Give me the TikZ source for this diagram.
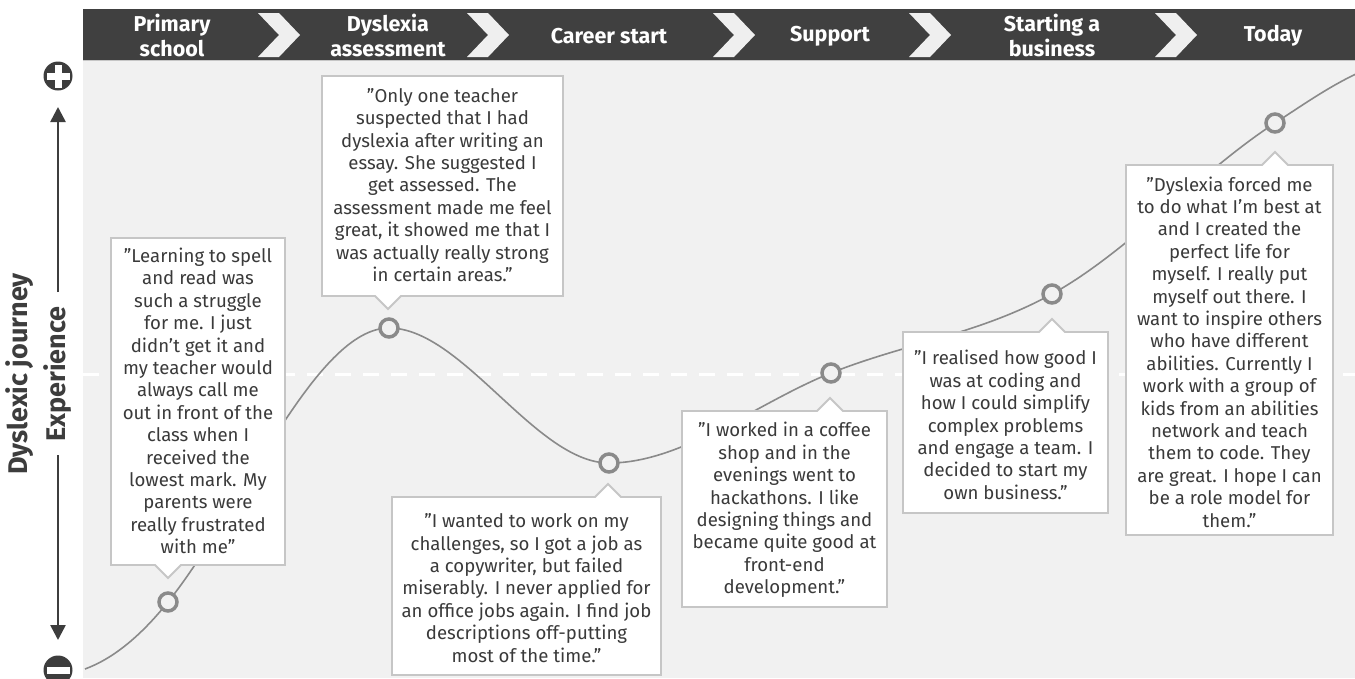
\documentclass[tikz,border=0pt]{standalone}
\usepackage{fontspec}
\setmainfont{Fira Sans}
\usetikzlibrary{arrows.meta}
\definecolor{bgc}{HTML}{F1F1F1}
\definecolor{hdr}{HTML}{404040}
\definecolor{chev}{HTML}{EFEFEF}
\definecolor{txt}{HTML}{3A3A3A}
\definecolor{boxline}{HTML}{C6C6C6}
\definecolor{curvec}{HTML}{8A8A8A}
\definecolor{axc}{HTML}{3D3D3D}
\newcommand\calloutup[5]{%
  \draw[callbox] (#1,#2) -- (#5-13,#2) -- (#5,#2-13) -- (#5+13,#2) -- (#3,#2) -- (#3,#4) -- (#1,#4) -- cycle;}
\newcommand\calloutdown[5]{%
  \draw[callbox] (#1,#2) -- (#3,#2) -- (#3,#4) -- (#5+13,#4) -- (#5,#4+13) -- (#5-13,#4) -- (#1,#4) -- cycle;}
\begin{document}
\begin{tikzpicture}[x=1pt,y=-1pt,
  callbox/.style={fill=white,draw=boxline,line width=1.8pt,line join=miter},
  quote/.style={text=txt,align=center,inner sep=0pt,font=\fontsize{18.6}{22.4}\selectfont},
  hlabel/.style={text=white,align=center,inner sep=0pt,font=\fontsize{21.5}{25}\selectfont\bfseries},
  axtitle/.style={text=axc,inner sep=0pt,font=\fontsize{27}{30}\selectfont\bfseries},
  stage/.style={circle,fill=bgc,draw=curvec,line width=3.5pt,minimum size=18pt,inner sep=0pt},
  axarrow/.style={axc,line width=2.6pt,-{Triangle[width=15pt,length=15pt]}},
  journey/.style={curvec,line width=1.6pt}]
\useasboundingbox (0,0) rectangle (1355,678);
\fill[white] (0,0) rectangle (1355,678);
\fill[bgc] (83,60) rectangle (1355,678);
% header
\fill[hdr] (83,9) rectangle (1355,60);
\draw[boxline,line width=1pt] (83,60.5) -- (1355,60.5);
\foreach \cx in {258,467,713,909,1155}
  \fill[chev] (\cx,13) -- ++(21,0) -- ++(21,22) -- ++(-21,22) -- ++(-21,0) -- ++(21,-22) -- cycle;
\node[hlabel] (h1) at (172,35) {Primary\\school};
\node[hlabel] (h2) at (388,35) {Dyslexia\\assessment};
\node[hlabel] (h3) at (609,36) {Career start};
\node[hlabel] (h4) at (830,36) {Support};
\node[hlabel] (h5) at (1052,35) {Starting a\\business};
\node[hlabel] (h6) at (1273,36) {Today};
% midline
\draw[white,line width=3pt,dash pattern=on 16pt off 12pt] (83,374) -- (1355,374);
% axis
\node[axtitle,rotate=90] (dj) at (20,374) {Dyslexic journey};
\node[axtitle,rotate=90] (exp) at (58,374) {Experience};
\node[circle,fill=axc,minimum size=29pt,inner sep=0pt] (plus) at (58,76) {};
\fill[white] (46.5,72.5) rectangle (69.5,79.5);
\fill[white] (54.5,64.5) rectangle (61.5,87.5);
\node[circle,fill=axc,minimum size=29pt,inner sep=0pt] (minus) at (58,670) {};
\fill[white] (46.5,666.5) rectangle (69.5,673.5);
\coordinate (axtop) at (58,292);
\coordinate (uptip) at (58,107);
\coordinate (axbot) at (58,455);
\coordinate (downtip) at (58,640);
\draw[axarrow] (axtop) -- (uptip);
\draw[axarrow] (axbot) -- (downtip);
% journey curve
\coordinate (p0) at (85,669);
\coordinate (p1) at (168,602);
\coordinate (p2) at (389,328);
\coordinate (p3) at (609,463);
\coordinate (p4) at (831,373);
\coordinate (p5) at (1052,294);
\coordinate (p6) at (1275,123);
\coordinate (p7) at (1356,74);
\draw[journey] (p0) .. controls (112.7,658.8) and (140.3,636.6) .. (p1)
  .. controls (241.7,509.9) and (315.3,328) .. (p2)
  .. controls (462.3,328) and (535.7,463) .. (p3)
  .. controls (683,463) and (757,402.6) .. (p4)
  .. controls (904.7,343.5) and (978.3,334.5) .. (p5)
  .. controls (1126.3,253.1) and (1200.7,171.3) .. (p6)
  .. controls (1301.7,105.7) and (1328.3,87) .. (p7);
\foreach \i in {1,...,6} \node[stage] (c\i) at (p\i) {};
% callouts
\calloutdown{111}{238}{285}{565}{168}
\calloutdown{322}{76}{563}{296}{388}
\calloutup{392}{497}{661}{675}{608}
\calloutup{682}{411}{887}{607}{830}
\calloutup{903}{332}{1108}{513}{1052}
\calloutup{1126}{165}{1333}{535}{1275}
\node[quote] (q1) at (198,401) {"Learning to spell\\and read was\\such a struggle\\for me. I just\\didn’t get it and\\my teacher would\\always call me\\out in front of the\\class when I\\received the\\lowest mark. My\\parents were\\really frustrated\\with me"};
\node[quote] (q2) at (442.5,185) {"Only one teacher\\suspected that I had\\dyslexia after writing an\\essay. She suggested I\\get assessed. The\\assessment made me feel\\great, it showed me that I\\was actually really strong\\in certain areas."};
\node[quote] (q3) at (526.5,588) {"I wanted to work on my\\challenges, so I got a job as\\a copywriter, but failed\\miserably. I never applied for\\an office jobs again. I find job\\descriptions off-putting\\most of the time."};
\node[quote] (q4) at (784.5,510) {"I worked in a coffee\\shop and in the\\evenings went to\\hackathons. I like\\designing things and\\became quite good at\\front-end\\development."};
\node[quote] (q5) at (1005.5,425) {"I realised how good I\\was at coding and\\how I could simplify\\complex problems\\and engage a team. I\\decided to start my\\own business."};
\node[quote] (q6) at (1229.5,352) {"Dyslexia forced me\\to do what I’m best at\\and I created the\\perfect life for\\myself. I really put\\myself out there. I\\want to inspire others\\who have different\\abilities. Currently I\\work with a group of\\kids from an abilities\\network and teach\\them to code. They\\are great. I hope I can\\be a role model for\\them."};
\end{tikzpicture}
\end{document}
